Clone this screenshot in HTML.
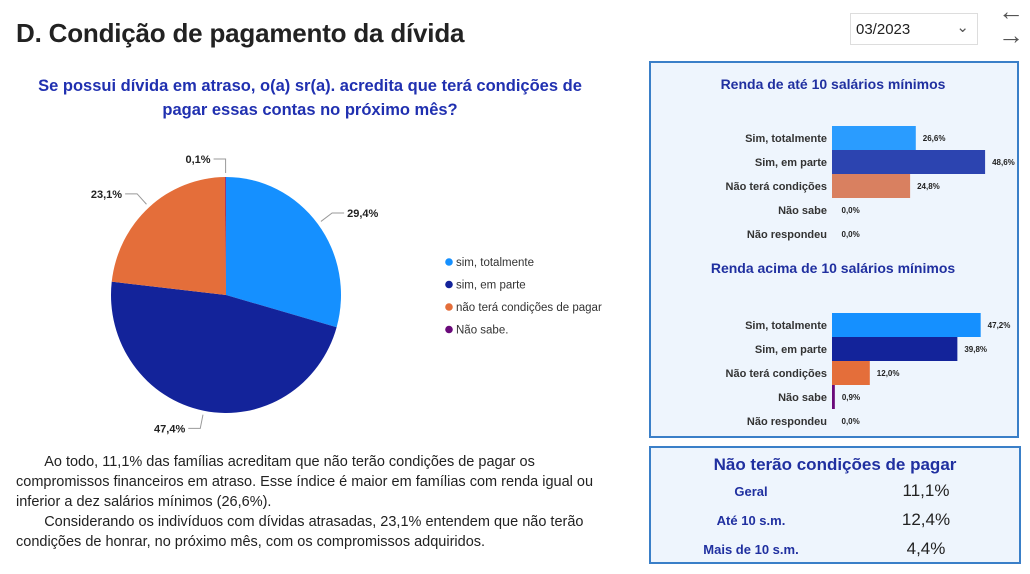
<!DOCTYPE html>
<html><head><meta charset="utf-8">
<style>
body{margin:0;width:1030px;height:574px;background:#fff;font-family:"Liberation Sans",sans-serif;position:relative;overflow:hidden}
.abs{position:absolute}
.title{left:16px;top:18px;font-size:26px;font-weight:bold;color:#222;letter-spacing:-0.2px}
.q{left:20px;top:74px;width:580px;text-align:center;font-size:16.5px;font-weight:bold;color:#2030b0;line-height:24px}
.txt{left:16px;top:452px;width:590px;font-size:14.5px;color:#222;line-height:20px}
.box{border:2px solid #3a7fc8;background:#eef5fd}
</style></head><body>
<div class="abs title">D. Condição de pagamento da dívida</div>
<div class="abs" style="left:850px;top:13px;width:128px;height:32px;border:1px solid #ddd;font-size:15px;color:#222;line-height:32px;box-sizing:border-box;padding-left:5px">03/2023<span style="position:absolute;right:8px;top:-2px;color:#555">&#8964;</span></div>
<div class="abs" style="left:998px;top:-4px;font-size:26px;color:#555">&#8592;</div>
<div class="abs" style="left:998px;top:20px;font-size:26px;color:#555">&#8594;</div>
<div class="abs q">Se possui dívida em atraso, o(a) sr(a). acredita que terá condições de pagar essas contas no próximo mês?</div>
<svg class="abs" style="left:0;top:0" width="640" height="440" id="pie"></svg>
<div class="abs txt">&nbsp;&nbsp;&nbsp;&nbsp;&nbsp;&nbsp;&nbsp;Ao todo, 11,1% das famílias acreditam que não terão condições de pagar os compromissos financeiros em atraso. Esse índice é maior em famílias com renda igual ou inferior a dez salários mínimos (26,6%).<br>&nbsp;&nbsp;&nbsp;&nbsp;&nbsp;&nbsp;&nbsp;Considerando os indivíduos com dívidas atrasadas, 23,1% entendem que não terão condições de honrar, no próximo mês, com os compromissos adquiridos.</div>
<div class="abs box" style="left:649px;top:61px;width:366px;height:373px"></div>
<svg class="abs" style="left:0;top:0" width="1030" height="574" id="bars"></svg>
<div class="abs box" style="left:649px;top:446px;width:368px;height:114px;color:#2030a0">
<div style="position:absolute;left:0;width:100%;top:7px;text-align:center;font-weight:bold;font-size:17px">Não terão condições de pagar</div>
<div style="position:absolute;left:0;width:200px;top:29px;text-align:center;font-weight:bold;font-size:13px;line-height:29px">Geral<br>Até 10 s.m.<br>Mais de 10 s.m.</div>
<div style="position:absolute;left:200px;width:150px;top:28px;text-align:center;font-size:17px;line-height:29px;color:#222">11,1%<br>12,4%<br>4,4%</div>
</div>
<script>
const pieLabels=["sim, totalmente","sim, em parte","não terá condições de pagar","Não  sabe."];
const pieValues=[29.4,47.4,23.1,0.1];
const pieColors=["#1590ff","#13239a","#e46e3a","#6a0a7a"];
const NS="http://www.w3.org/2000/svg";
function mk(svg,t,a){const e=document.createElementNS(NS,t);for(const k in a)e.setAttribute(k,a[k]);svg.appendChild(e);return e;}
const pie=document.getElementById('pie');
const cx=226,cy=295,rx=115,ry=118;
const total=pieValues.reduce((a,b)=>a+b,0);
let ang=0;
pieValues.forEach((v,i)=>{
 const a0=ang,a1=ang+v/total*2*Math.PI;ang=a1;
 const p=a=>[cx+rx*Math.sin(a),cy-ry*Math.cos(a)];
 const [x0,y0]=p(a0),[x1,y1]=p(a1);
 const s=mk(pie,'path',{d:`M${cx},${cy}L${x0},${y0}A${rx},${ry} 0 ${a1-a0>Math.PI?1:0} 1 ${x1},${y1}Z`,fill:pieColors[i]});
 
 
 const m=(a0+a1)/2;const [ex,ey]=[cx+(rx+4)*Math.sin(m),cy-(ry+4)*Math.cos(m)];
 const ox=cx+(rx+18)*Math.sin(m), oy=cy-(ry+18)*Math.cos(m);
 const right=Math.sin(m)>=0;
 const hx=ox+(right?12:-12);
 mk(pie,'polyline',{points:`${ex},${ey} ${ox},${oy} ${hx},${oy}`,fill:'none',stroke:'#999','stroke-width':1});
 const t=mk(pie,'text',{x:hx+(right?3:-3),y:oy+4,'text-anchor':right?'start':'end','font-size':11,'font-weight':'bold',fill:'#222'});
 t.textContent=v.toFixed(1).replace('.',',')+'%';
 
 
});
pieLabels.forEach((l,i)=>{
 const y=262+i*22.5;
 const c=mk(pie,'circle',{cx:449,cy:y,r:3.8,fill:pieColors[i]});
 
 
 const t=mk(pie,'text',{x:456,y:y+4,'font-size':11.5,fill:'#333'});t.textContent=l;
 
 
});
const barCats=["Sim, totalmente","Sim, em parte","Não terá condições","Não sabe","Não respondeu"];
const lowIncome=[26.6,48.6,24.8,0.0,0.0];
const highIncome=[47.2,39.8,12.0,0.9,0.0];
const lowColors=["#2a9cff","#2c44b0","#d98060","#6a0a7a","#888"];
const highColors=["#1590ff","#13239a","#e46e3a","#6a0a7a","#888"];
const bars=document.getElementById('bars');
const x0=832,k=3.15,rowH=24;
function group(title,ty,top,vals,cols){
 const tt=mk(bars,'text',{x:833,y:ty,'text-anchor':'middle','font-size':14,'font-weight':'bold',fill:'#2030a0'});tt.textContent=title;
 
 
 barCats.forEach((c,i)=>{
  const y=top+i*rowH;
  const l=mk(bars,'text',{x:827,y:y+rowH/2+4,'text-anchor':'end','font-size':11,'font-weight':'bold',fill:'#333'});l.textContent=c;
  
  
  const w=vals[i]*k;
  if(w>0){const r=mk(bars,'rect',{x:x0,y:y,width:Math.max(w,2.5),height:rowH,fill:cols[i]});
  
  }
  const v=mk(bars,'text',{x:x0+Math.max(w,2.5)+7,y:y+rowH/2+3,'font-size':8,'font-weight':'bold',fill:'#222'});v.textContent=vals[i].toFixed(1).replace('.',',')+'%';
  
  
 });
}
group("Renda de até 10 salários mínimos",89,126,lowIncome,lowColors);
group("Renda acima de 10 salários mínimos",273,313,highIncome,highColors);
</script>
</body></html>
